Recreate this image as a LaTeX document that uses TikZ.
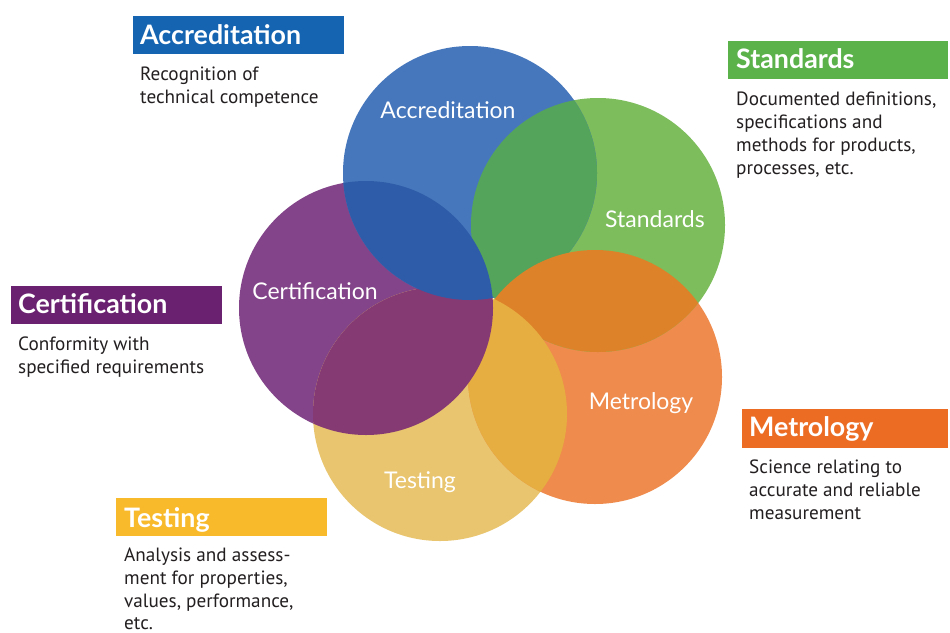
\documentclass[tikz,border=0pt]{standalone}
\usepackage{fontspec}
\setmainfont{Lato}
\newfontfamily\bodyfont{PT Sans}
\definecolor{cBlue}{HTML}{4677BC}
\definecolor{cGreen}{HTML}{7DBD5B}
\definecolor{cOrange}{HTML}{EF8B4C}
\definecolor{cYellow}{HTML}{E8C56E}
\definecolor{cPurple}{HTML}{834489}
\definecolor{oAS}{HTML}{55A45B}
\definecolor{oSM}{HTML}{DD8229}
\definecolor{oMT}{HTML}{E6AE41}
\definecolor{oTC}{HTML}{853A74}
\definecolor{oCA}{HTML}{2F5CA8}
\definecolor{bBlue}{HTML}{1464B2}
\definecolor{bGreen}{HTML}{5BB24B}
\definecolor{bPurple}{HTML}{6A2170}
\definecolor{bOrange}{HTML}{EC6C24}
\definecolor{bYellow}{HTML}{F8B92B}
\definecolor{txt}{HTML}{231F20}
\begin{document}
\begin{tikzpicture}[x=1pt,y=-1pt,
  head/.style={anchor=base west, inner sep=0pt, text=white, font=\fontsize{26.8}{30}\selectfont\bfseries},
  body/.style={anchor=base west, inner sep=0pt, text=txt, font=\bodyfont\fontsize{19.2}{23}\selectfont},
  clabel/.style={anchor=base, inner sep=0pt, text=white, font=\fontsize{23}{26}\selectfont},
  disc/.style={radius=127}]
\useasboundingbox[fill=white] (0,0) rectangle (950,632);
% circle centres
\coordinate (cA) at (470,173);
\coordinate (cS) at (598,225);
\coordinate (cM) at (595,377);
\coordinate (cT) at (440,414);
\coordinate (cC) at (366,308);
% base discs
\fill[cPurple] (cC) circle[disc];
\fill[cYellow] (cT) circle[disc];
\fill[cOrange] (cM) circle[disc];
\fill[cGreen] (cS) circle[disc];
\fill[cBlue] (cA) circle[disc];
% overlaps
\begin{scope}\clip (cA) circle[disc]; \fill[oAS] (cS) circle[disc];\end{scope}
\begin{scope}\clip (cS) circle[disc]; \fill[oSM] (cM) circle[disc];\end{scope}
\begin{scope}\clip (cM) circle[disc]; \fill[oMT] (cT) circle[disc];\end{scope}
\begin{scope}\clip (cT) circle[disc]; \fill[oTC] (cC) circle[disc];\end{scope}
\begin{scope}\clip (cC) circle[disc]; \fill[oCA] (cA) circle[disc];\end{scope}
% circle labels
\node[clabel] (lA) at (448,118) {Accreditation};
\node[clabel] (lS) at (655,227) {Standards};
\node[clabel] (lC) at (315,299) {Certification};
\node[clabel] (lT) at (420,488) {Testing};
\node[clabel] (lM) at (641,409) {Metrology};
% heading boxes
\fill[bBlue] (133,16) rectangle (344,54);
\fill[bGreen] (728,41) rectangle (948,79);
\fill[bPurple] (11,286) rectangle (222,324);
\fill[bOrange] (742,409) rectangle (948,448);
\fill[bYellow] (116,498) rectangle (327,536);
\node[head] (hA) at (140,44) {Accreditation};
\node[head] (hS) at (736,68) {Standards};
\node[head] (hC) at (18,313) {Certification};
\node[head] (hM) at (749,436) {Metrology};
\node[head] (hT) at (124,527) {Testing};
% descriptions
\node[body] (dA1) at (140,80) {Recognition of};
\node[body] (dA2) at (140,103) {technical competence};
\node[body] (dS1) at (736,105) {Documented definitions,};
\node[body] (dS2) at (736,128) {specifications and};
\node[body] (dS3) at (736,151) {methods for products,};
\node[body] (dS4) at (736,174) {processes, etc.};
\node[body] (dC1) at (18,350) {Conformity with};
\node[body] (dC2) at (18,373) {specified requirements};
\node[body] (dM1) at (749,473) {Science relating to};
\node[body] (dM2) at (749,496) {accurate and reliable};
\node[body] (dM3) at (749,519) {measurement};
\node[body] (dT1) at (124,561) {Analysis and assess-};
\node[body] (dT2) at (124,584) {ment for properties,};
\node[body] (dT3) at (124,607) {values, performance,};
\node[body] (dT4) at (124,629) {etc.};
\end{tikzpicture}
\end{document}
